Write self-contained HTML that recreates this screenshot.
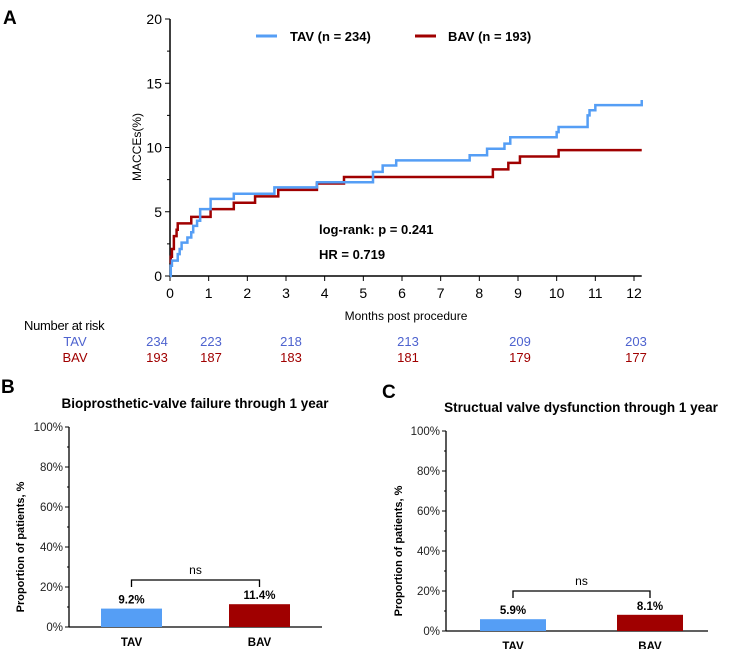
<!DOCTYPE html>
<html><head><meta charset="utf-8"><style>
body{margin:0;background:#fff;width:750px;height:649px;overflow:hidden}
svg{display:block;font-family:"Liberation Sans",Arial,sans-serif}
</style></head><body>
<svg id="s" width="750" height="649"></svg>
<script>
const tavT=[0,0.02,0.05,0.2,0.25,0.3,0.45,0.55,0.6,0.7,0.78,1.05,1.65,2.7,3.8,5.25,5.5,5.85,7.75,8.2,8.65,8.8,10.0,10.05,10.8,10.85,11.0,12.2];
const tavV=[0,0.8,1.2,1.7,2.1,2.6,3.0,3.4,3.9,4.3,5.2,6.0,6.4,6.9,7.3,8.1,8.6,9.0,9.4,9.9,10.3,10.8,11.2,11.6,12.5,12.9,13.3,13.7];
const bavT=[0,0.02,0.05,0.1,0.17,0.2,0.55,1.05,1.65,2.2,2.8,3.8,4.5,8.35,8.75,9.05,10.05];
const bavV=[1.0,1.5,2.1,3.1,3.6,4.1,4.6,5.2,5.7,6.2,6.7,7.2,7.7,8.3,8.8,9.3,9.8];
const xTicks=[0,1,2,3,4,5,6,7,8,9,10,11,12];
const yTicks=[0,5,10,15,20];
const riskTAV=[234,223,218,213,209,203];
const riskBAV=[193,187,183,181,179,177];
const barCats=["TAV","BAV"];
const barB=[9.2,11.4];
const barC=[5.9,8.1];
const pctTicks=[0,20,40,60,80,100];
const BLUE="#559ef5",RED="#a00000";
const s=document.getElementById('s');
function el(t,a,txt){const e=document.createElementNS("http://www.w3.org/2000/svg",t);for(const k in a)e.setAttribute(k,a[k]);if(txt!=null)e.textContent=txt;s.appendChild(e);return e;}
const X=v=>170+v*(634-170)/12, Y=v=>276-v*(276-19)/20;
let e;
e=el('text',{x:3,y:24,'font-size':19,'font-weight':'bold'},'A');


e=el('line',{x1:170,y1:Y(20),x2:170,y2:276,stroke:'#000','stroke-width':1.5});


e=el('line',{x1:170,y1:276,x2:X(12.2),y2:276,stroke:'#000','stroke-width':1.5});


for(let v=0;v<=20;v+=2.5){e=el('line',{x1:v%5?167:165,y1:Y(v),x2:170,y2:Y(v),stroke:'#000'});

}
yTicks.forEach(v=>{e=el('text',{x:162,y:Y(v)+5,'font-size':14,'text-anchor':'end'},v);

});
xTicks.forEach(v=>{e=el('line',{x1:X(v),y1:276,x2:X(v),y2:281,stroke:'#000'});


e=el('text',{x:X(v),y:298,'font-size':14,'text-anchor':'middle'},v);

});
e=el('text',{x:0,y:0,'font-size':12,'text-anchor':'middle',transform:'translate(141,147) rotate(-90)'},'MACCEs(%)');


e=el('text',{x:406,y:320,'font-size':12,'text-anchor':'middle'},'Months post procedure');


function step(T,V,end){let d='M'+X(T[0])+','+Y(V[0]);for(let i=1;i<T.length;i++){d+='H'+X(T[i])+'V'+Y(V[i]);}d+='H'+X(end);return d;}
e=el('path',{d:step(bavT,bavV,12.2),fill:'none',stroke:RED,'stroke-width':2.5});


e=el('path',{d:step(tavT,tavV,12.2),fill:'none',stroke:BLUE,'stroke-width':2.5});


e=el('line',{x1:256,y1:36,x2:277,y2:36,stroke:BLUE,'stroke-width':3});


e=el('text',{x:290,y:41,'font-size':13,'font-weight':'bold'},'TAV (n = 234)');


e=el('line',{x1:415,y1:36,x2:436,y2:36,stroke:RED,'stroke-width':3});


e=el('text',{x:448,y:41,'font-size':13,'font-weight':'bold'},'BAV (n = 193)');


e=el('text',{x:319,y:234,'font-size':13,'font-weight':'bold'},'log-rank: p = 0.241');


e=el('text',{x:319,y:259,'font-size':13,'font-weight':'bold'},'HR = 0.719');


e=el('text',{x:24,y:330,'font-size':13,'letter-spacing':'-0.3'},'Number at risk');


e=el('text',{x:75,y:346,'font-size':13,fill:'#4e63cf','text-anchor':'middle'},'TAV');


e=el('text',{x:75,y:362,'font-size':13,fill:RED,'text-anchor':'middle'},'BAV');


const riskX=[157,211,291,408,520,636];
riskTAV.forEach((v,i)=>{e=el('text',{x:riskX[i],y:346,'font-size':13,fill:'#4e63cf','text-anchor':'middle'},v);

});
riskBAV.forEach((v,i)=>{e=el('text',{x:riskX[i],y:362,'font-size':13,fill:RED,'text-anchor':'middle'},v);

});
function bars(o,vals){
 const Yb=v=>o.y0-v*(o.y0-o.y100)/100;
 e=el('text',{x:o.lx,y:o.ly,'font-size':19,'font-weight':'bold'},o.letter);
 
 
 e=el('text',{x:o.tx,y:o.ty,'font-size':13.5,'font-weight':'bold','text-anchor':'middle'},o.title);
 
 
 e=el('line',{x1:o.ax,y1:o.y100,x2:o.ax,y2:o.y0,stroke:'#000','stroke-width':1.3});
 
 
 e=el('line',{x1:o.ax,y1:o.y0,x2:o.xe,y2:o.y0,stroke:'#000','stroke-width':1.3});
 
 
 for(let v=0;v<=100;v+=10){e=el('line',{x1:v%20?o.ax-2:o.ax-4,y1:Yb(v),x2:o.ax,y2:Yb(v),stroke:'#000'});
 
 }
 pctTicks.forEach(v=>{e=el('text',{x:o.ax-6,y:Yb(v)+4,'font-size':11.5,'text-anchor':'end',fill:'#222'},v+'%');
 
 });
 e=el('text',{x:0,y:0,'font-size':11,'font-weight':'bold','text-anchor':'middle',transform:`translate(${o.ylx},${(o.y0+o.y100)/2+20}) rotate(-90)`},'Proportion of patients, %');
 
 
 const mids=[];
 vals.forEach((v,i)=>{const x=o.bx[i];mids.push(x+o.bw/2);
  e=el('rect',{x:x,y:Yb(v),width:o.bw,height:o.y0-Yb(v),fill:i?RED:BLUE});
  
  
  e=el('text',{x:x+o.bw/2,y:Yb(v)-5,'font-size':11.5,'font-weight':'bold','text-anchor':'middle'},v.toFixed(1)+'%');
  
  
  e=el('text',{x:x+o.bw/2,y:o.y0+19,'font-size':11.5,'font-weight':'bold','text-anchor':'middle'},barCats[i]);
  
  });
 e=el('path',{d:`M${mids[0]},${o.br+7}V${o.br}H${mids[1]}V${o.br+7}`,fill:'none',stroke:'#000','stroke-width':1.3});
 
 
 e=el('text',{x:(mids[0]+mids[1])/2,y:o.br-6,'font-size':12,'text-anchor':'middle'},'ns');
 
 
}
bars({letter:'B',lx:1,ly:393,title:'Bioprosthetic-valve failure through 1 year',tx:195,ty:408,ax:69,y0:627,y100:427,xe:322,bx:[101,229],bw:61,br:580,ylx:24},barB);
bars({letter:'C',lx:382,ly:398,title:'Structual valve dysfunction through 1 year',tx:581,ty:412,ax:446,y0:631,y100:431,xe:708,bx:[480,617],bw:66,br:591,ylx:402},barC);
</script>
</body></html>
